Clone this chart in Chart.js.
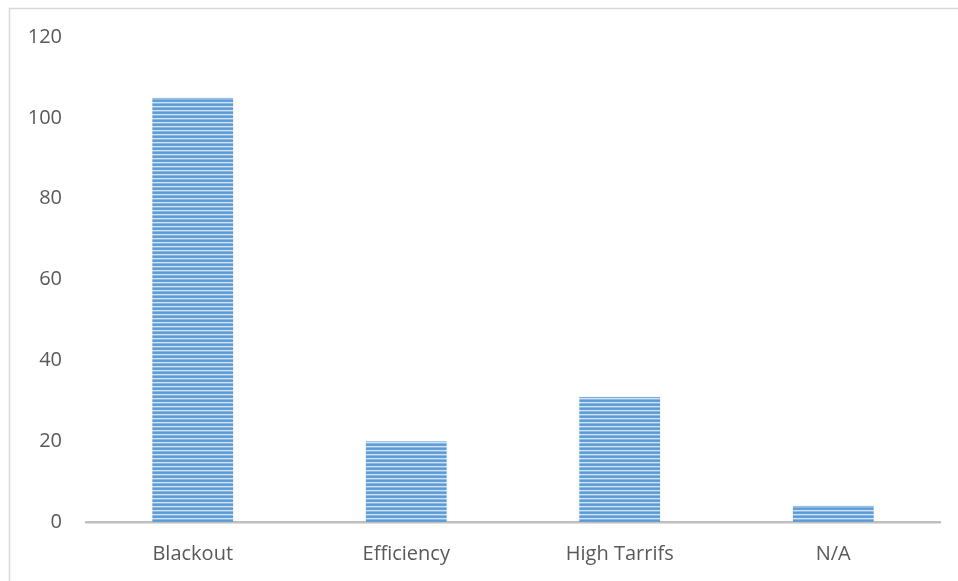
<!DOCTYPE html>
<html>
<head>
<meta charset="utf-8">
<script src="https://cdn.jsdelivr.net/npm/chart.js@4/dist/chart.umd.min.js"></script>
<style>
  html, body { margin: 0; padding: 0; background: #ffffff; }
  #wrap { width: 958px; height: 581px; position: relative; }
</style>
</head>
<body>
<div id="wrap"><canvas id="c" width="958" height="581"></canvas></div>
<script>
// Reasons given, with the number of responses for each
const categories = ['Blackout', 'Efficiency', 'High Tarrifs', 'N/A'];
const responses = [105, 20, 31, 4];
const yTicks = [0, 20, 40, 60, 80, 100, 120];

// Horizontal-stripe fill for the bars
function stripeFill() {
  const p = document.createElement('canvas');
  p.width = 4; p.height = 4;
  const g = p.getContext('2d');
  const rows = ['#5b9bd5', '#65a1d9', '#cfe1f4', '#8bb7e5'];
  rows.forEach((c, i) => { g.fillStyle = c; g.fillRect(0, i, 4, 1); });
  return g.createPattern(p, 'repeat');
}

// Light frame along the top and left edges
const frame = {
  id: 'frame',
  beforeDraw(chart) {
    const ctx = chart.ctx;
    ctx.save();
    ctx.fillStyle = '#ffffff';
    ctx.fillRect(0, 0, chart.width, chart.height);
    ctx.strokeStyle = '#d9d9d9';
    ctx.lineWidth = 1.5;
    ctx.beginPath();
    ctx.moveTo(9.5, chart.height);
    ctx.lineTo(9.5, 8.5);
    ctx.lineTo(chart.width, 8.5);
    ctx.stroke();
    ctx.restore();
  }
};

const font = { family: "'Open Sans', 'Liberation Sans', sans-serif", size: 20 };

new Chart(document.getElementById('c'), {
  type: 'bar',
  data: {
    labels: categories,
    datasets: [{
      data: responses,
      backgroundColor: stripeFill(),
      borderColor: '#5b9bd5',
      borderWidth: { top: 1, left: 0, right: 0, bottom: 0 },
      borderSkipped: 'bottom',
      categoryPercentage: 1,
      barPercentage: 0.38
    }]
  },
  options: {
    responsive: false,
    animation: false,
    layout: { padding: { top: 37, right: 18, bottom: 0, left: 0 } },
    plugins: { legend: { display: false }, tooltip: { enabled: false } },
    scales: {
      x: {
        grid: { display: false, drawTicks: false },
        border: { display: true, color: '#bfbfbf', width: 2.5 },
        ticks: { color: '#595959', font: font, padding: 20 },
        afterFit(s) { s.height = 59; }
      },
      y: {
        min: 0,
        max: 120,
        afterBuildTicks(s) { s.ticks = yTicks.map(v => ({ value: v })); },
        grid: { display: false, drawTicks: false },
        border: { display: false },
        ticks: { color: '#595959', font: font, padding: 24 },
        afterFit(s) { s.width = 86; }
      }
    }
  },
  plugins: [frame]
});
</script>
</body>
</html>
